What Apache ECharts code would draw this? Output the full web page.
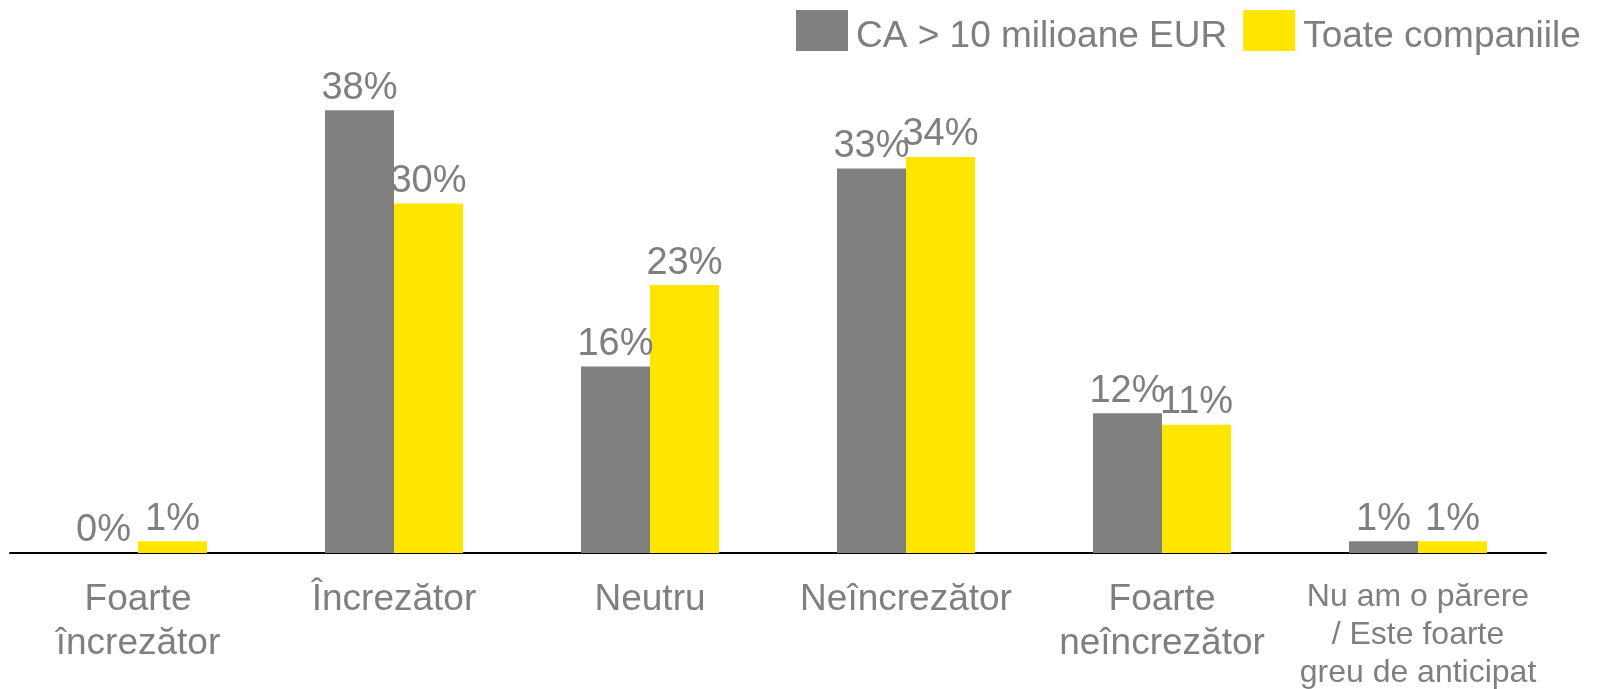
<!DOCTYPE html>
<html>
<head>
<meta charset="utf-8">
<script src="https://cdn.jsdelivr.net/npm/echarts@6/dist/echarts.min.js"></script>
<style>
  html, body { margin: 0; padding: 0; background: #fff; }
  #chart { width: 1598px; height: 689px; }
</style>
</head>
<body>
<div id="chart"></div>
<script>
// categorii si valori (%)
var categories = ['Foarte\nîncrezător', 'Încrezător', 'Neutru', 'Neîncrezător', 'Foarte\nneîncrezător', 'Nu am o părere\n/ Este foarte\ngreu de anticipat'];
var seriesNames = ['CA > 10 milioane EUR', 'Toate companiile'];
var bigCompanies = [0, 38, 16, 33, 12, 1];
var allCompanies = [1, 30, 23, 34, 11, 1];

var grey = '#808080';
var yellow = '#FFE600';
var txt = '#7f7f7f';

var chart = echarts.init(document.getElementById('chart'));

var labelStyle = {
  show: true,
  position: 'top',
  distance: 3,
  color: txt,
  fontFamily: 'Liberation Sans',
  fontSize: 38,
  formatter: function (p) { return p.value + '%'; }
};

chart.setOption({
  animation: false,
  color: [grey, yellow],
  legend: {
    data: seriesNames,
    top: 10,
    left: 796,
    padding: 0,
    itemWidth: 52,
    itemHeight: 41,
    itemGap: 16,
    icon: 'rect',
    formatter: function (name) { return '{t|' + name + '}'; },
    textStyle: {
      rich: {
        t: {
          color: txt,
          fontFamily: 'Liberation Sans',
          fontSize: 37,
          padding: [12, 0, 0, 3]
        }
      }
    }
  },
  grid: {
    left: 10,
    right: 52,
    top: 87,
    bottom: 136,
    outerBoundsMode: 'none'
  },
  xAxis: {
    type: 'category',
    data: categories,
    axisLine: { lineStyle: { color: '#000', width: 2 } },
    axisTick: { show: false },
    axisLabel: {
      interval: 0,
      margin: 25,
      color: txt,
      fontFamily: 'Liberation Sans',
      fontSize: 37,
      lineHeight: 44,
      formatter: function (v, i) {
        if (i === 5) {
          // ultima categorie are text mai mic
          return v.split('\n').map(function (s) { return '{s|' + s + '}'; }).join('\n');
        }
        return v;
      },
      rich: {
        s: { fontSize: 32, lineHeight: 38, color: txt, fontFamily: 'Liberation Sans' }
      }
    }
  },
  yAxis: {
    type: 'value',
    min: 0,
    max: 40,
    show: false,
    splitLine: { show: false }
  },
  series: [{
    name: seriesNames[0],
    type: 'bar',
    barWidth: 69,
    barGap: '0%',
    data: bigCompanies,
    label: labelStyle
  }, {
    name: seriesNames[1],
    type: 'bar',
    barWidth: 69,
    barGap: '0%',
    data: allCompanies,
    label: labelStyle
  }]
});
</script>
</body>
</html>
